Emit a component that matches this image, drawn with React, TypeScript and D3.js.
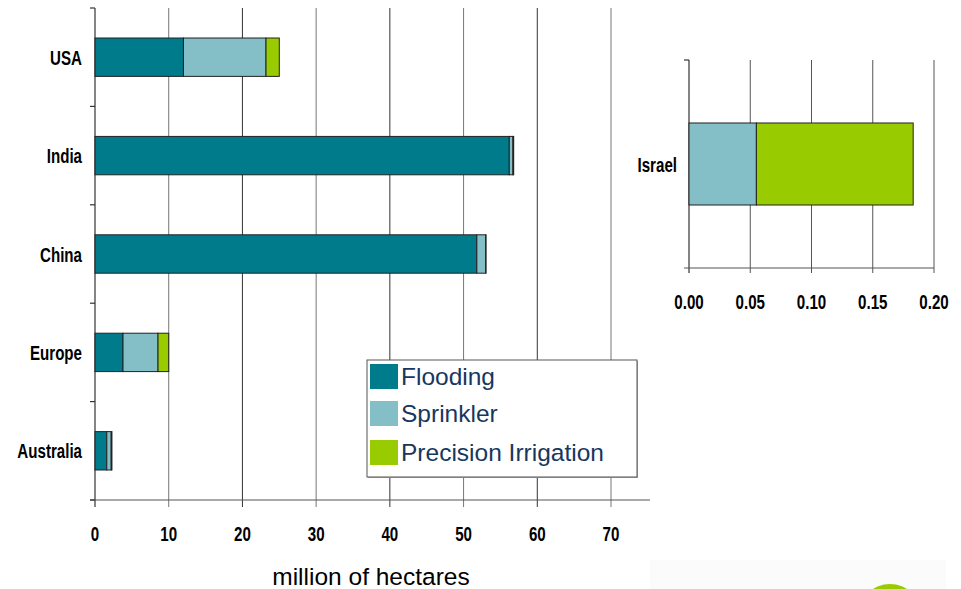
import React from "react";
import * as d3 from "d3";

const regions = ["USA", "India", "China", "Europe", "Australia"];
const flooding = [12.0, 56.2, 51.8, 3.8, 1.6];
const sprinkler = [11.2, 0.5, 1.2, 4.75, 0.6];
const precision = [1.8, 0.1, 0.05, 1.45, 0.1];
const mainTicks = [0, 10, 20, 30, 40, 50, 60, 70];

const israelCats = ["Israel"];
const israelFlooding = [0];
const israelSprinkler = [0.055];
const israelPrecision = [0.128];
const israelTicks = [0, 0.05, 0.1, 0.15, 0.2];

const seriesNames = ["Flooding", "Sprinkler", "Precision Irrigation"];
const colors = ["#007b8b", "#84bec6", "#99cc00"];

const arial = "'Liberation Sans', Arial, sans-serif";

function stackRows(cats: string[], a: number[], b: number[], c: number[]) {
  const rows = cats.map((k, i) => ({ k, s0: a[i], s1: b[i], s2: c[i] }));
  return d3.stack<any>().keys(["s0", "s1", "s2"])(rows);
}

function NarrowLabel({ x, y, anchor, children }: { x: number; y: number; anchor: string; children: any }) {
  return (
    <text
      transform={`translate(${x},${y}) scale(0.72,1)`}
      textAnchor={anchor}
      fontFamily={arial}
      fontWeight="bold"
      fontSize={21}
      fill="#000"
    >
      {children}
    </text>
  );
}

export default function App() {
  const x = d3.scaleLinear().domain([0, 70]).range([95, 611]);
  const y = d3.scaleBand().domain(regions).range([8, 500]).paddingInner(0.61).paddingOuter(0.305);
  const mainStack = stackRows(regions, flooding, sprinkler, precision);

  const xi = d3.scaleLinear().domain([0, 0.2]).range([689, 934]);
  const yi = d3.scaleBand().domain(israelCats).range([60, 268]).paddingInner(0.5).paddingOuter(0.384);
  const isStack = stackRows(israelCats, israelFlooding, israelSprinkler, israelPrecision);

  const catTicksMain = d3.range(regions.length + 1).map((i) => 8 + i * ((500 - 8) / regions.length));

  return (
    <svg width={961} height={589} style={{ position: "absolute", left: 0, top: 0, background: "#fff" }}>
      <rect x={650} y={560} width={296} height={29} fill="#fbfbfb" />
      <circle cx={890} cy={615} r={31} fill="#99cc00" />

      {/* ===== Main chart ===== */}
      {mainTicks.slice(1).map((t, i) => (
        <line key={"g" + t} x1={x(t)} x2={x(t)} y1={8} y2={507} stroke={i % 2 === 0 ? "#777" : "#333"} strokeWidth={1} />
      ))}
      <line x1={95} x2={95} y1={8} y2={507} stroke="#333" strokeWidth={1.2} />
      <line x1={90} x2={650} y1={500} y2={500} stroke="#555" strokeWidth={1.2} />
      {catTicksMain.map((t, i) => (
        <line key={"ct" + i} x1={90} x2={95} y1={t} y2={t} stroke="#333" strokeWidth={1.2} />
      ))}

      {mainStack.map((layer, li) => (
        <g key={"l" + li}>
          {layer.map((d: any, i: number) =>
            d[1] - d[0] > 0 ? (
              <rect
                key={i}
                x={x(d[0])}
                y={y(regions[i])!}
                width={x(d[1]) - x(d[0])}
                height={y.bandwidth()}
                fill={colors[li]}
                stroke="#222"
                strokeWidth={1}
              />
            ) : null
          )}
        </g>
      ))}

      {regions.map((r) => (
        <NarrowLabel key={r} x={82} y={y(r)! + y.bandwidth() / 2 + 7.5} anchor="end">
          {r}
        </NarrowLabel>
      ))}
      {mainTicks.map((t) => (
        <NarrowLabel key={"tl" + t} x={x(t)} y={541} anchor="middle">
          {t}
        </NarrowLabel>
      ))}
      <text x={371} y={585} textAnchor="middle" fontFamily={arial} fontSize={24.5} fill="#000">
        million of hectares
      </text>

      {/* legend */}
      <rect x={368} y={361} width={270} height={117} fill="#aaa" />
      <rect x={367} y={360} width={270} height={117} fill="#fff" stroke="#555" strokeWidth={1} />
      {seriesNames.map((s, i) => {
        const yy = [364, 401, 440][i];
        return (
          <g key={s}>
            <rect x={370} y={yy} width={28} height={25} fill={colors[i]} />
            <text x={401} y={yy + 21} fontFamily={arial} fontSize={24.5} fill="#17375e">
              {s}
            </text>
          </g>
        );
      })}

      {/* ===== Israel chart ===== */}
      {israelTicks.slice(1).map((t) => (
        <line key={"gi" + t} x1={xi(t)} x2={xi(t)} y1={60} y2={273} stroke="#555" strokeWidth={1} />
      ))}
      <line x1={689} x2={689} y1={60} y2={273} stroke="#333" strokeWidth={1.2} />
      <line x1={684} x2={934} y1={268} y2={268} stroke="#555" strokeWidth={1.2} />
      <line x1={684} x2={689} y1={60} y2={60} stroke="#333" strokeWidth={1.2} />

      {isStack.map((layer, li) => (
        <g key={"il" + li}>
          {layer.map((d: any, i: number) =>
            d[1] - d[0] > 0 ? (
              <rect
                key={i}
                x={xi(d[0])}
                y={yi(israelCats[i])!}
                width={xi(d[1]) - xi(d[0])}
                height={yi.bandwidth()}
                fill={colors[li]}
                stroke="#222"
                strokeWidth={1}
              />
            ) : null
          )}
        </g>
      ))}
      {israelCats.map((c) => (
        <NarrowLabel key={c} x={677} y={yi(c)! + yi.bandwidth() / 2 + 7.5} anchor="end">
          {c}
        </NarrowLabel>
      ))}
      {israelTicks.map((t) => (
        <NarrowLabel key={"it" + t} x={xi(t)} y={309} anchor="middle">
          {d3.format(".2f")(t)}
        </NarrowLabel>
      ))}
    </svg>
  );
}
